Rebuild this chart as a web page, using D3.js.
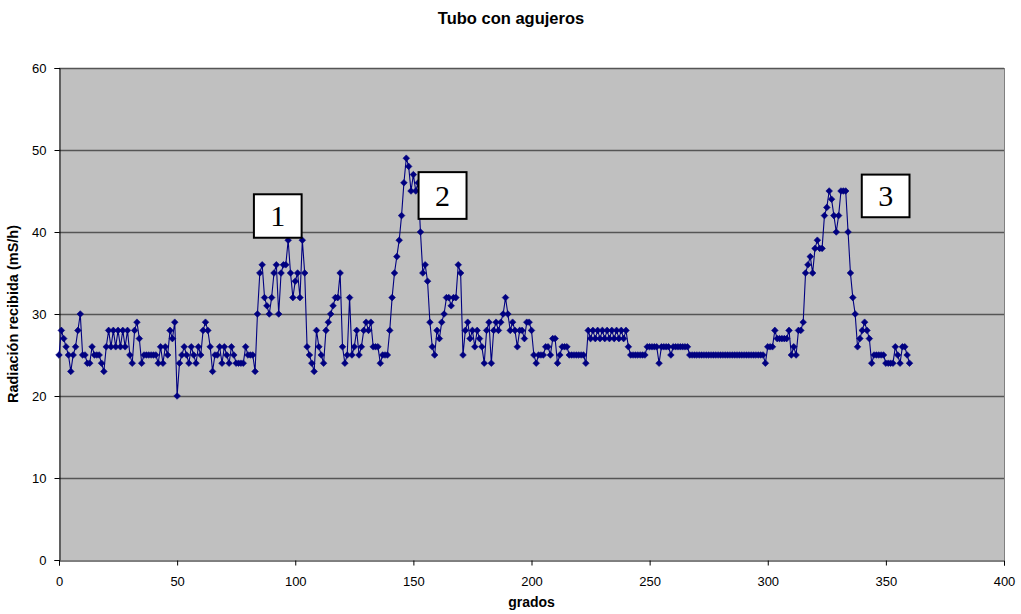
<!DOCTYPE html>
<html><head><meta charset="utf-8">
<script src="https://cdn.jsdelivr.net/npm/d3@7"></script>
<style>body{margin:0;background:#fff}svg{display:block}</style>
</head><body>
<svg id="c" width="1021" height="614"></svg>
<script>
const title = "Tubo con agujeros";
const xTitle = "grados";
const yTitle = "Radiación recibida (mS/h)";
const xTicks = [0,50,100,150,200,250,300,350,400];
const yTicks = [0,10,20,30,40,50,60];
// radiation readings, one per degree 0..360
const radiacion = [
25,28,27,26,25,23,25,26,28,30, 25,25,24,24,26,25,25,25,24,23,
26,28,26,28,26,28,26,28,26,28, 25,24,28,29,27,24,25,25,25,25,
25,25,24,26,24,26,25,28,27,29, 20,24,25,26,25,24,26,25,24,26,
25,28,29,28,26,23,25,25,26,24, 26,25,24,26,25,24,24,24,24,26,
25,25,25,23,30,35,36,32,31,30, 32,35,36,30,35,36,36,39,35,32,
34,35,32,39,35,26,25,24,23,28, 26,25,24,28,29,30,31,32,32,35,
26,24,25,32,25,26,28,25,26,28, 29,28,29,26,26,26,24,25,25,25,
28,32,35,37,39,42,46,49,48,45, 47,45,46,40,35,36,34,29,26,25,
28,27,29,30,32,32,31,32,32,36, 35,25,28,29,27,28,26,28,27,26,
24,28,29,24,28,29,28,29,30,32, 30,28,29,28,26,28,28,27,29,29,
28,25,24,25,25,25,26,26,25,27, 27,24,25,26,26,26,25,25,25,25,
25,25,25,24,28,27,28,27,28,27, 28,27,28,27,28,27,28,27,28,27,
28,26,25,25,25,25,25,25,25,26, 26,26,26,26,24,26,26,26,26,25,
26,26,26,26,26,26,26,25,25,25, 25,25,25,25,25,25,25,25,25,25,
25,25,25,25,25,25,25,25,25,25, 25,25,25,25,25,25,25,25,25,24,
26,26,26,28,27,27,27,27,27,28, 25,26,25,28,28,29,35,36,37,35,
38,39,38,38,42,43,45,44,42,40, 42,45,45,45,40,35,32,30,26,27,
28,29,28,27,24,25,25,25,25,25, 24,24,24,24,26,25,24,26,26,25,
24
];
const grados = radiacion.map((d,i)=>i);
const etiquetas = ["1","2","3"];
const etiquetaX = [82.5,152.2,339.8];
const etiquetaY = [44.6,47.3,47.0];
const etiquetaX2 = [102.7,172.5,360.0];
const etiquetaY2 = [39.3,41.6,41.8];

const svg = d3.select("#c");
const m = {l:59, r:1004, t:68, b:560};
const x = d3.scaleLinear().domain([0,400]).range([m.l,m.r]);
const y = d3.scaleLinear().domain([0,60]).range([m.b,m.t]);

svg.append("rect").attr("x",m.l).attr("y",m.t).attr("width",m.r-m.l).attr("height",m.b-m.t).attr("fill","#c0c0c0");

svg.append("g").selectAll("line").data(yTicks.filter(d=>d>0)).join("line")
  .attr("x1",m.l).attr("x2",m.r).attr("y1",d=>Math.round(y(d))+0.5).attr("y2",d=>Math.round(y(d))+0.5)
  .attr("stroke","#555").attr("stroke-width",1.3);
svg.append("line").attr("x1",m.r+0.5).attr("x2",m.r+0.5).attr("y1",m.t).attr("y2",m.b).attr("stroke","#808080");

const font = "Liberation Sans, Arial, sans-serif";
const yAxis = svg.append("g").attr("transform",`translate(${m.l+0.5},0)`)
  .call(d3.axisLeft(y).tickValues(yTicks).tickSize(5).tickPadding(8).tickFormat(d3.format("d")));
const xAxis = svg.append("g").attr("transform",`translate(0,${m.b+0.5})`)
  .call(d3.axisBottom(x).tickValues(xTicks).tickSize(5).tickPadding(11).tickFormat(d3.format("d")));
[xAxis,yAxis].forEach(a=>{a.selectAll("path,line").attr("stroke","#000");a.selectAll("text").attr("font-family",font).attr("font-size",13).attr("fill","#000");});

const line = d3.line().x((d,i)=>x(grados[i])).y(d=>y(d));
svg.append("path").datum(radiacion).attr("d",line).attr("fill","none").attr("stroke","#000080").attr("stroke-width",1.1);
const sym = d3.symbol().type(d3.symbolDiamond2).size(28);
svg.append("g").selectAll("path").data(radiacion).join("path")
  .attr("transform",(d,i)=>`translate(${x(grados[i])},${y(d)})`)
  .attr("d",sym).attr("fill","#000080").attr("stroke","#000080").attr("stroke-width",0.6);

const g = svg.append("g").selectAll("g").data(etiquetas).join("g");
g.append("rect").attr("x",(d,i)=>x(etiquetaX[i])).attr("y",(d,i)=>y(etiquetaY[i]))
  .attr("width",(d,i)=>x(etiquetaX2[i])-x(etiquetaX[i])).attr("height",(d,i)=>y(etiquetaY2[i])-y(etiquetaY[i]))
  .attr("fill","#fff").attr("stroke","#000").attr("stroke-width",2);
g.append("text").attr("x",(d,i)=>(x(etiquetaX[i])+x(etiquetaX2[i]))/2).attr("y",(d,i)=>(y(etiquetaY[i])+y(etiquetaY2[i]))/2+10)
  .attr("text-anchor","middle").attr("font-family","Liberation Serif, Times New Roman, serif").attr("font-size",30).text(d=>d);

svg.append("text").attr("x",511).attr("y",24).attr("text-anchor","middle").attr("font-family",font).attr("font-weight","bold").attr("font-size",16.5).text(title);
svg.append("text").attr("x",(m.l+m.r)/2).attr("y",607).attr("text-anchor","middle").attr("font-family",font).attr("font-weight","bold").attr("font-size",14).text(xTitle);
svg.append("text").attr("transform",`translate(18,${(m.t+m.b)/2}) rotate(-90)`).attr("text-anchor","middle").attr("font-family",font).attr("font-weight","bold").attr("font-size",14.5).text(yTitle);
</script>
</body></html>
